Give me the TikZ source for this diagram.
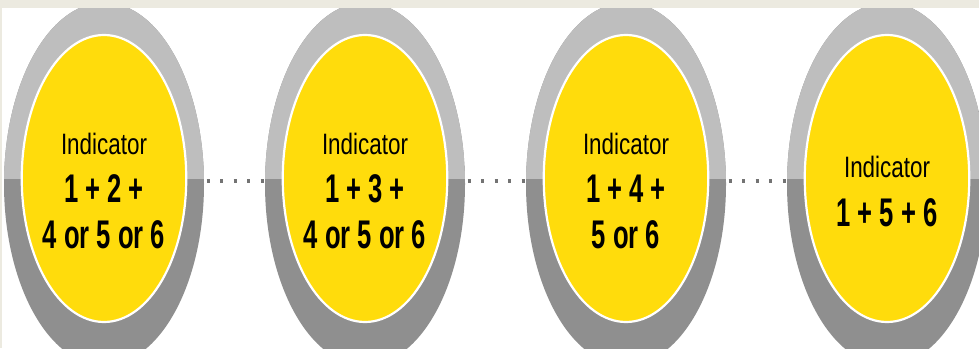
\documentclass[tikz,border=0pt]{standalone}
\usepackage{fontspec}
\setmainfont{Liberation Sans}
\newfontfamily\labelfont{Liberation Sans}[FakeStretch=0.76]
\newfontfamily\numfont{Liberation Sans}[FakeStretch=0.64]
\usetikzlibrary{shapes.geometric}
\definecolor{ringlight}{RGB}{190,190,190}
\definecolor{ringdark}{RGB}{143,143,143}
\definecolor{discyellow}{RGB}{255,220,12}
\definecolor{stripbeige}{RGB}{236,234,224}
\definecolor{dotgray}{RGB}{115,115,115}
\begin{document}
\begin{tikzpicture}[x=1pt,y=1pt,
  ring/.style={ellipse, fill=ringdark, inner sep=0pt, outer sep=0pt, minimum width=200pt, minimum height=363pt,
    path picture={\fill[ringlight] ([yshift=5pt]path picture bounding box.west) rectangle (path picture bounding box.north east);}},
  disc/.style={ellipse, fill=discyellow, draw=white, line width=2.2pt, inner sep=0pt, outer sep=0pt, minimum width=164.5pt, minimum height=287pt},
  lbl/.style={anchor=base, inner sep=0pt, font=\labelfont\fontsize{29.5}{30}\selectfont},
  num/.style={anchor=base, inner sep=0pt, font=\numfont\bfseries\fontsize{40}{40}\selectfont},
  dotline/.style={dotgray, line width=4.5pt, dash pattern=on 3pt off 10.5pt, shorten <=2.5pt}]
\useasboundingbox (0,0) rectangle (979,348);
\clip (0,0) rectangle (979,348);
\fill[white] (0,0) rectangle (979,348);

\node[ring] (o1) at (104,164) {};
\node[ring] (o2) at (365,164) {};
\node[ring] (o3) at (626,164) {};
\node[ring] (o4) at (887,164) {};

\node[disc] (d1) at (104,169.5) {};
\node[disc] (d2) at (365,169.5) {};
\node[disc] (d3) at (626,169.5) {};
\node[disc] (d4) at (887,169.5) {};

\node[lbl] (t1) at (104,193) {Indicator};
\node[num] (n1) at (104,145) {1 + 2 +};
\node[num] (m1) at (104,99) {4 or 5 or 6};
\node[lbl] (t2) at (365,193) {Indicator};
\node[num] (n2) at (365,145) {1 + 3 +};
\node[num] (m2) at (365,99) {4 or 5 or 6};
\node[lbl] (t3) at (626,193) {Indicator};
\node[num] (n3) at (626,145) {1 + 4 +};
\node[num] (m3) at (626,99) {5 or 6};
\node[lbl] (t4) at (887,170) {Indicator};
\node[num] (n4) at (887,121) {1 + 5 + 6};

\draw[dotline] ([yshift=3pt]o1.east) -- ([yshift=3pt]o2.west);
\draw[dotline] ([yshift=3pt]o2.east) -- ([yshift=3pt]o3.west);
\draw[dotline] ([yshift=3pt]o3.east) -- ([yshift=3pt]o4.west);

\fill[stripbeige] (0,340) rectangle (979,348);
\fill[stripbeige] (0,0) rectangle (1.5,348);
\end{tikzpicture}
\end{document}
